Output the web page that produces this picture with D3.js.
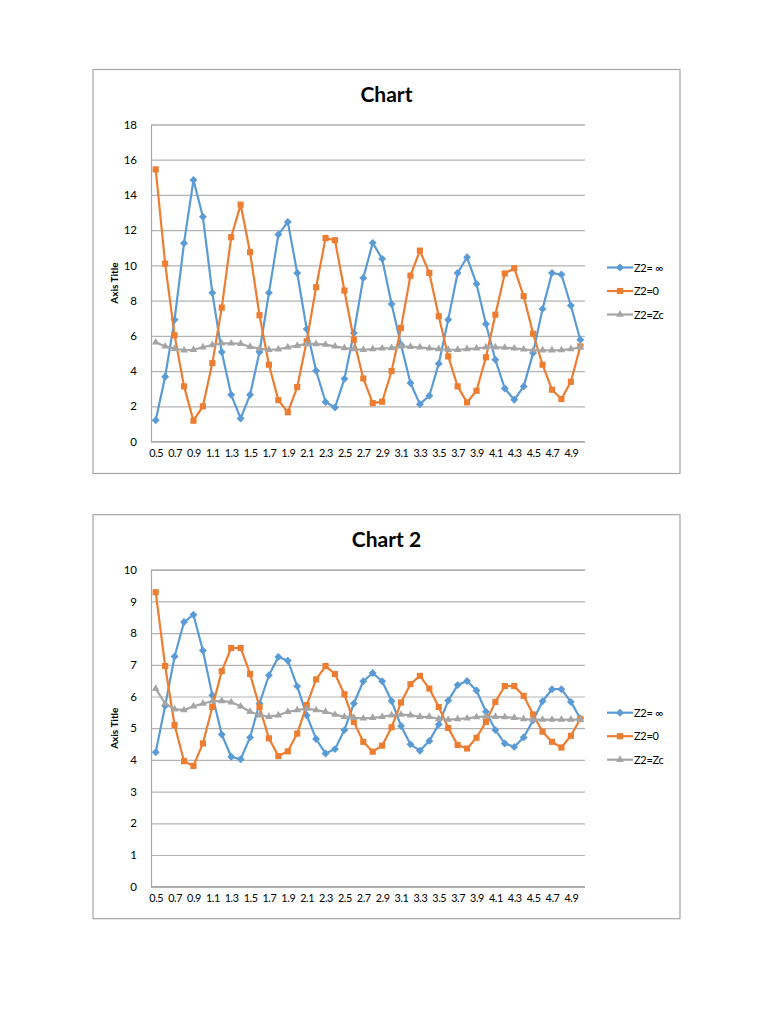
<!DOCTYPE html>
<html>
<head>
<meta charset="utf-8">
<script src="https://cdn.jsdelivr.net/npm/d3@7"></script>
<style>
  body { margin: 0; background: #fff; }
  svg { display: block; font-family: Lato, "Open Sans", sans-serif; }
</style>
</head>
<body>
<svg id="page" width="768" height="1024"></svg>
<script>
const categories = ['0.5','0.6','0.7','0.8','0.9','1.0','1.1','1.2','1.3','1.4','1.5','1.6','1.7','1.8','1.9',
    '2.0','2.1','2.2','2.3','2.4','2.5','2.6','2.7','2.8','2.9','3.0','3.1','3.2','3.3','3.4','3.5','3.6',
    '3.7','3.8','3.9','4.0','4.1','4.2','4.3','4.4','4.5','4.6','4.7','4.8','4.9','5.0'];
const seriesNames = ['Z2= ∞', 'Z2=0', 'Z2=Zc'];

// chart 1
const chart1Inf = [1.21,3.68,6.92,11.26,14.85, 12.76,8.44,5.08,2.65,1.31,2.65,5.08,8.44,11.75,12.47,
    9.57,6.39,4.02,2.24,1.93,3.56,6.16,9.29,11.28,10.37, 7.81,5.5,3.32,2.12,2.6,4.42,6.92,9.57,10.46,8.95,
    6.67,4.64,3.01,2.37,3.13,5.02,7.53,9.57,9.48,7.72,5.78];
const chart1Zero = [15.45,10.1,6.03,3.13,1.18, 2.0,4.45,7.6,11.6,13.45,10.75,7.17,4.36,2.35,1.66,
    3.09,5.69,8.76,11.55,11.43,8.57,5.78,3.58,2.18,2.26, 4.0,6.45,9.42,10.84,9.57,7.11,4.83,3.13,2.22,2.88,
    4.78,7.2,9.54,9.84,8.25,6.12,4.36,2.94,2.41,3.39,5.4];
const chart1Zc = [5.63,5.4,5.27,5.18,5.21, 5.35,5.48,5.57,5.57,5.55,5.38,5.27,5.21,5.23,5.35,
    5.44,5.54,5.54,5.5,5.4,5.31,5.25,5.21,5.25,5.29, 5.31,5.4,5.38,5.35,5.29,5.25,5.21,5.21,5.25,5.29,
    5.35,5.35,5.33,5.29,5.23,5.18,5.18,5.18,5.19,5.25,5.35];
const chart1Ticks = [0, 2, 4, 6, 8, 10, 12, 14, 16, 18];

// chart 2
const chart2Inf = [4.24,5.71,7.26,8.35,8.58, 7.45,6.04,4.8,4.1,4.02,4.71,5.78,6.67,7.25,7.13,
    6.32,5.41,4.66,4.2,4.34,4.94,5.78,6.48,6.74,6.48, 5.86,5.07,4.49,4.29,4.6,5.12,5.87,6.36,6.49,6.19,
    5.52,4.94,4.52,4.41,4.71,5.25,5.85,6.23,6.23,5.83,5.31];
const chart2Zero = [9.29,6.96,5.1,3.96,3.81, 4.52,5.67,6.8,7.53,7.53,6.71,5.67,4.68,4.12,4.27,
    4.83,5.73,6.54,6.96,6.71,6.07,5.2,4.57,4.26,4.45, 5.03,5.81,6.39,6.65,6.25,5.67,5.01,4.47,4.36,4.7,
    5.2,5.83,6.33,6.33,6.02,5.43,4.89,4.57,4.39,4.76,5.29];
const chart2Zc = [6.25,5.78,5.6,5.57,5.69, 5.78,5.85,5.86,5.82,5.69,5.52,5.41,5.36,5.41,5.52,
    5.57,5.62,5.57,5.52,5.43,5.36,5.33,5.31,5.33,5.36, 5.41,5.43,5.41,5.36,5.36,5.29,5.27,5.29,5.31,5.35,
    5.37,5.36,5.35,5.33,5.29,5.27,5.27,5.27,5.27,5.27,5.27];
const chart2Ticks = [0, 1, 2, 3, 4, 5, 6, 7, 8, 9, 10];

const colors = ['#5b9bd5', '#ed7d31', '#a5a5a5'];
const symbols = [d3.symbolDiamond2, d3.symbolSquare2, d3.symbolTriangle2];
const symbolSizes = [40, 48, 42];

const BOX_W = 587, BOX_H = 404;
const plot = {left: 58, right: 492, top: 55, bottom: 372};

const svg = d3.select('#page');

const drawChart = (x0, y0, title, series, ticks) => {
    const g = svg.append('g').attr('transform', `translate(${x0}, ${y0})`);

    g.append('rect')
        .attr('x', 0).attr('y', 0)
        .attr('width', BOX_W).attr('height', BOX_H)
        .attr('fill', '#fff')
        .attr('stroke', '#a6a6a6')
        .attr('stroke-width', 1.2);

    g.append('text')
        .attr('x', BOX_W / 2).attr('y', 32)
        .attr('text-anchor', 'middle')
        .style('font-size', '21px')
        .style('font-weight', 'bold')
        .attr('fill', '#000')
        .text(title);

    const xScale = d3.scalePoint().domain(categories).range([plot.left, plot.right]).padding(0.5);
    const yScale = d3.scaleLinear().domain([0, d3.max(ticks)]).range([plot.bottom, plot.top]);

    // gridlines + y labels
    const yAxis = d3.axisLeft(yScale).tickValues(ticks).tickSize(-(plot.right - plot.left)).tickPadding(14);
    const yAxisG = g.append('g').attr('transform', `translate(${plot.left}, 0)`).call(yAxis);
    yAxisG.select('.domain').attr('stroke', '#a6a6a6').attr('stroke-width', 1.2);
    yAxisG.selectAll('.tick line').attr('stroke', '#b3b3b3').attr('stroke-width', 1.2);
    yAxisG.selectAll('.tick text')
        .style('font-size', '11.5px').style('font-family', 'Lato, sans-serif').attr('fill', '#000');

    // category axis, every second label
    const xAxis = d3.axisBottom(xScale)
        .tickValues(categories.filter((c, i) => i % 2 === 0))
        .tickSize(0).tickPadding(8);
    const xAxisG = g.append('g').attr('transform', `translate(0, ${plot.bottom})`).call(xAxis);
    xAxisG.select('.domain').remove();
    xAxisG.selectAll('.tick text')
        .style('font-size', '10.8px').style('font-family', 'Lato, sans-serif')
        .style('letter-spacing', '-0.4px').attr('fill', '#000');
    g.append('line')
        .attr('x1', plot.left).attr('x2', plot.right)
        .attr('y1', yScale(0)).attr('y2', yScale(0))
        .attr('stroke', '#a6a6a6').attr('stroke-width', 1.2);

    g.append('text')
        .attr('transform', `translate(25, ${(plot.top + plot.bottom) / 2}) rotate(-90)`)
        .attr('text-anchor', 'middle')
        .style('font-size', '10px')
        .style('font-weight', 'bold')
        .text('Axis Title');

    const line = d3.line()
        .x((d, i) => xScale(categories[i]))
        .y(d => yScale(d));

    series.forEach((values, s) => {
        g.append('path')
            .datum(values)
            .attr('fill', 'none')
            .attr('stroke', colors[s])
            .attr('stroke-width', 2.2)
            .attr('stroke-linejoin', 'round')
            .attr('d', line);
        g.append('g').selectAll('path')
            .data(values)
            .join('path')
            .attr('transform', (d, i) => `translate(${xScale(categories[i])}, ${yScale(d)})`)
            .attr('d', d3.symbol().type(symbols[s]).size(symbolSizes[s]))
            .attr('fill', colors[s]);
    });

    // legend
    const legend = g.append('g').attr('transform', 'translate(514, 198)');
    seriesNames.forEach((name, s) => {
        const row = legend.append('g').attr('transform', `translate(0, ${s * 23.5})`);
        row.append('line')
            .attr('x1', 0).attr('x2', 26)
            .attr('stroke', colors[s]).attr('stroke-width', 2.2);
        row.append('path')
            .attr('transform', 'translate(13, 0)')
            .attr('d', d3.symbol().type(symbols[s]).size(symbolSizes[s]))
            .attr('fill', colors[s]);
        row.append('text')
            .attr('x', 27).attr('y', 4)
            .style('font-size', '11px')
            .style('letter-spacing', '-0.3px')
            .text(name);
    });
};

drawChart(93, 69.5, 'Chart', [chart1Inf, chart1Zero, chart1Zc], chart1Ticks);
drawChart(93, 514.7, 'Chart 2', [chart2Inf, chart2Zero, chart2Zc], chart2Ticks);
</script>
</body>
</html>
